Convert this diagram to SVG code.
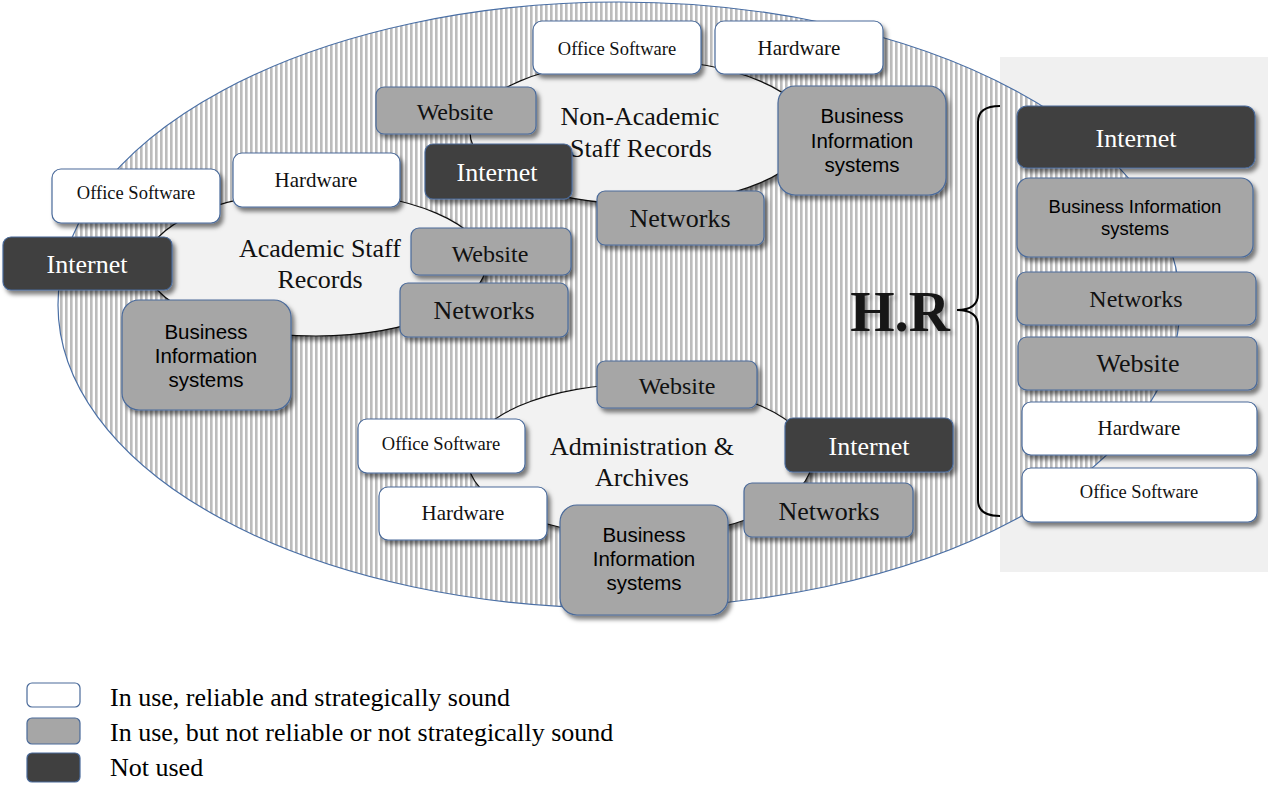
<svg xmlns="http://www.w3.org/2000/svg" width="1268" height="787" viewBox="0 0 1268 787">
<style>
.w{fill:#ffffff;stroke:#4a6a9a;stroke-width:1.2}
.g{fill:#a6a6a6;stroke:#4a6a9a;stroke-width:1.2}
.d{fill:#404040;stroke:#4a6a9a;stroke-width:1.2}
.t{font-family:"Liberation Serif","Times New Roman",serif;fill:#111111;text-anchor:middle}
.tw{font-family:"Liberation Serif","Times New Roman",serif;fill:#ffffff;text-anchor:middle}
.s{font-family:"Liberation Sans",Arial,sans-serif;fill:#000000;text-anchor:middle}
.os{font-size:18.5px}
.hw{font-size:21px}
.ws{font-size:24px}
.in{font-size:26px}
.nw{font-size:26px}
.bis{font-size:20.5px}
.inner{fill:#f2f2f2;stroke:#111;stroke-width:1.2}
.lg{font-family:"Liberation Serif","Times New Roman",serif;fill:#000;font-size:26px}
.sh{filter:url(#shadow)}
</style>
<defs>
<pattern id="stripes" patternUnits="userSpaceOnUse" width="5" height="10">
<rect x="0" y="0" width="5" height="10" fill="#ffffff"/>
<rect x="0" y="0" width="2.6" height="10" fill="#bcbcbc"/>
</pattern>
<filter id="shadow" x="-20%" y="-20%" width="150%" height="160%">
<feDropShadow dx="3" dy="4" stdDeviation="2.2" flood-color="#000" flood-opacity="0.5"/>
</filter>
<filter id="tshadow" x="-20%" y="-20%" width="150%" height="160%">
<feDropShadow dx="3" dy="3" stdDeviation="2" flood-color="#000" flood-opacity="0.35"/>
</filter>
</defs>

<rect id="hr-panel" x="1000" y="57" width="268" height="515" fill="#f0f0f0"/>
<ellipse id="hr-ellipse" cx="619" cy="305" rx="561" ry="303" fill="url(#stripes)" stroke="#4a6fa5" stroke-width="1.2"/>

<g id="connectors">
<path d="M1000,106 Q978,106 978,122 L978,294 Q978,310 957,310 Q978,310 978,326 L978,500 Q978,516 1000,516" fill="none" stroke="#000" stroke-width="2"/>
</g>

<g id="hr-label">
<text x="900" y="331" style="font-family:'Liberation Serif','Times New Roman',serif;font-weight:bold;font-size:57px;fill:#161616;text-anchor:middle;filter:url(#tshadow)">H.R</text>
</g>

<g id="academic">
<ellipse class="inner sh" cx="316" cy="264" rx="170" ry="72"/>
<text class="t" x="320" y="257" style="font-size:26px">Academic Staff</text>
<text class="t" x="320" y="288" style="font-size:26px">Records</text>
</g>
<g id="non-academic">
<ellipse class="inner sh" cx="640" cy="132" rx="170" ry="72"/>
<text class="t" x="640" y="125" style="font-size:26px">Non-Academic</text>
<text class="t" x="641" y="157" style="font-size:26px">Staff Records</text>
</g>
<g id="administration">
<ellipse class="inner sh" cx="640" cy="460" rx="172" ry="76"/>
<text class="t" x="642" y="455" style="font-size:26px">Administration &amp;</text>
<text class="t" x="642" y="486" style="font-size:26px">Archives</text>
</g>

<!-- Non-Academic cluster -->
<g id="na-office"><rect class="w sh" x="533" y="21" width="168" height="53" rx="9"/><text class="t os" x="617" y="55">Office Software</text></g>
<g id="na-hardware"><rect class="w sh" x="715" y="21" width="168" height="53" rx="9"/><text class="t hw" x="799" y="55">Hardware</text></g>
<g id="na-website"><rect class="g sh" x="376" y="87" width="160" height="47" rx="8"/><text class="t ws" x="455" y="120">Website</text></g>
<g id="na-internet"><rect class="d sh" x="425" y="144" width="147" height="55" rx="8"/><text class="tw in" x="497" y="181">Internet</text></g>
<g id="na-networks"><rect class="g sh" x="597" y="191" width="167" height="54" rx="8"/><text class="t nw" x="680" y="227">Networks</text></g>
<g id="na-bis"><rect class="g sh" x="778" y="86" width="168" height="109" rx="17"/>
<text class="s bis" x="862" y="123">Business</text><text class="s bis" x="862" y="148">Information</text><text class="s bis" x="862" y="172">systems</text></g>

<!-- Academic cluster -->
<g id="ac-office"><rect class="w sh" x="52" y="169" width="168" height="54" rx="9"/><text class="t os" x="136" y="199">Office Software</text></g>
<g id="ac-hardware"><rect class="w sh" x="233" y="153" width="167" height="54" rx="9"/><text class="t hw" x="316" y="187">Hardware</text></g>
<g id="ac-internet"><rect class="d sh" x="3" y="237" width="169" height="53" rx="8"/><text class="tw in" x="87" y="273">Internet</text></g>
<g id="ac-website"><rect class="g sh" x="411" y="228" width="160" height="47" rx="8"/><text class="t ws" x="490" y="262">Website</text></g>
<g id="ac-networks"><rect class="g sh" x="400" y="283" width="168" height="54" rx="8"/><text class="t nw" x="484" y="319">Networks</text></g>
<g id="ac-bis"><rect class="g sh" x="122" y="300" width="169" height="110" rx="17"/>
<text class="s bis" x="206" y="339">Business</text><text class="s bis" x="206" y="363">Information</text><text class="s bis" x="206" y="387">systems</text></g>

<!-- Administration cluster -->
<g id="ad-website"><rect class="g sh" x="597" y="361" width="160" height="47" rx="8"/><text class="t ws" x="677" y="394">Website</text></g>
<g id="ad-office"><rect class="w sh" x="358" y="419" width="167" height="54" rx="9"/><text class="t os" x="441" y="450">Office Software</text></g>
<g id="ad-hardware"><rect class="w sh" x="379" y="487" width="168" height="53" rx="9"/><text class="t hw" x="463" y="520">Hardware</text></g>
<g id="ad-internet"><rect class="d sh" x="785" y="418" width="168" height="54" rx="8"/><text class="tw in" x="869" y="455">Internet</text></g>
<g id="ad-networks"><rect class="g sh" x="744" y="483" width="169" height="54" rx="8"/><text class="t nw" x="829" y="520">Networks</text></g>
<g id="ad-bis"><rect class="g sh" x="560" y="505" width="168" height="110" rx="17"/>
<text class="s bis" x="644" y="542">Business</text><text class="s bis" x="644" y="566">Information</text><text class="s bis" x="644" y="590">systems</text></g>

<!-- HR column -->
<g id="hr-internet"><rect class="d sh" x="1017" y="106" width="238" height="62" rx="10"/><text class="tw in" x="1136" y="147">Internet</text></g>
<g id="hr-bis"><rect class="g sh" x="1017" y="178" width="236" height="79" rx="12"/>
<text class="s" x="1135" y="213" style="font-size:18.5px">Business Information</text><text class="s" x="1135" y="235" style="font-size:18.5px">systems</text></g>
<g id="hr-networks"><rect class="g sh" x="1017" y="272" width="239" height="53" rx="9"/><text class="t" x="1136" y="307" style="font-size:24px">Networks</text></g>
<g id="hr-website"><rect class="g sh" x="1018" y="337" width="239" height="53" rx="9"/><text class="t" x="1138" y="372" style="font-size:26px">Website</text></g>
<g id="hr-hardware"><rect class="w sh" x="1022" y="402" width="235" height="53" rx="9"/><text class="t hw" x="1139" y="435">Hardware</text></g>
<g id="hr-office"><rect class="w sh" x="1022" y="468" width="235" height="54" rx="9"/><text class="t os" x="1139" y="498">Office Software</text></g>

<!-- Legend -->
<g id="legend">
<rect class="w" x="27" y="683" width="53" height="24" rx="5"/>
<rect class="g" x="27" y="718" width="53" height="26" rx="5"/>
<rect class="d" x="27" y="753" width="53" height="29" rx="5"/>
<text class="lg" x="110" y="706">In use, reliable and strategically sound</text>
<text class="lg" x="110" y="741">In use, but not reliable or not strategically sound</text>
<text class="lg" x="110" y="776">Not used</text>
</g>
</svg>
